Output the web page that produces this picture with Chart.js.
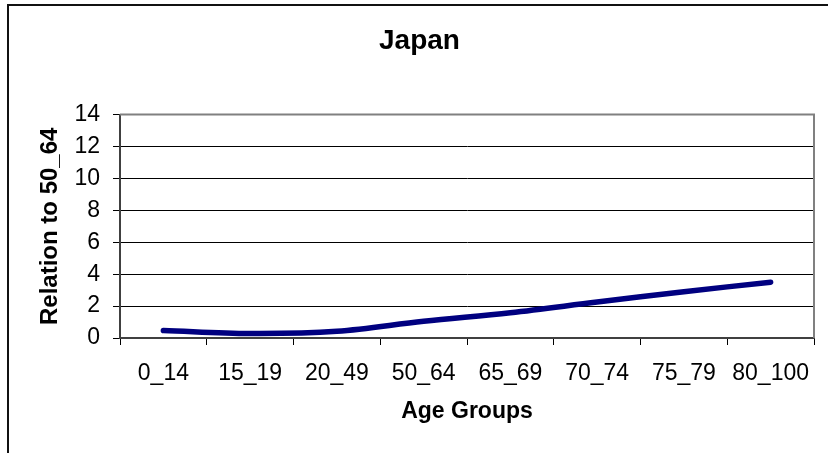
<!DOCTYPE html>
<html>
<head>
<meta charset="utf-8">
<script src="https://cdn.jsdelivr.net/npm/chart.js@4/dist/chart.umd.min.js"></script>
<style>
  html, body { margin: 0; padding: 0; background: #fff; }
  #frame { position: absolute; left: 7px; top: 4px; width: 900px; height: 600px;
           border-top: 2px solid #111; border-left: 2px solid #111; }
  #wrap { position: absolute; left: 0; top: 0; width: 828px; height: 453px; }
</style>
</head>
<body>
<div id="frame"></div>
<div id="wrap"><canvas id="japanChart"></canvas></div>
<script>
// datos
const ageGroups = ['0_14', '15_19', '20_49', '50_64', '65_69', '70_74', '75_79', '80_100'];
const relationValues = [0.47, 0.28, 0.42, 1.05, 1.58, 2.25, 2.9, 3.5];
const yTicks = [0, 2, 4, 6, 8, 10, 12, 14];

const FONT = "'Liberation Sans', Arial, sans-serif";

// borde gris del área del gráfico (arriba y derecha)
const plotBorder = {
  id: 'plotBorder',
  beforeDatasetsDraw(chart) {
    const { ctx, chartArea: a } = chart;
    ctx.save();
    ctx.strokeStyle = '#808080';
    ctx.lineWidth = 2;
    ctx.beginPath();
    ctx.moveTo(a.left, a.top);
    ctx.lineTo(a.right, a.top);
    ctx.lineTo(a.right, a.bottom);
    ctx.stroke();
    ctx.restore();
  }
};

function initChart() {
  const ctx = document.getElementById('japanChart').getContext('2d');
  new Chart(ctx, {
    type: 'line',
    data: {
      labels: ageGroups,
      datasets: [{
        label: 'Japan',
        data: relationValues,
        borderColor: '#000080',
        borderWidth: 5.5,
        borderCapStyle: 'round',
        borderJoinStyle: 'round',
        tension: 0.35,
        pointRadius: 0,
        fill: false
      }]
    },
    options: {
      responsive: true,
      maintainAspectRatio: false,
      animation: false,
      layout: { padding: { left: 25, right: 14, top: 0, bottom: 0 } },
      plugins: {
        legend: { display: false },
        tooltip: { enabled: false },
        title: {
          display: true,
          text: 'Japan',
          color: '#000',
          font: { family: FONT, size: 28, weight: 'bold' },
          padding: { top: 24, bottom: 57 }
        }
      },
      scales: {
        x: {
          offset: true,
          afterFit: s => { s.height = 115; },
          grid: { display: true, drawOnChartArea: false, drawTicks: true, tickLength: 7,
                  color: '#000', offset: true },
          border: { color: '#404040', width: 2 },
          ticks: { color: '#000', font: { family: FONT, size: 23 }, padding: 15,
                   maxRotation: 0, autoSkip: false },
          title: {
            display: true,
            text: 'Age Groups',
            color: '#000',
            font: { family: FONT, size: 23, weight: 'bold' },
            padding: { top: 0, bottom: 28 }
          }
        },
        y: {
          min: 0,
          max: 14,
          afterFit: s => { s.width = 95; },
          afterBuildTicks: s => { s.ticks = yTicks.map(v => ({ value: v })); },
          grid: {
            color: c => (c.tick && c.tick.value === 14) ? '#808080' : '#000',
            lineWidth: 1,
            tickLength: 7,
            tickColor: '#000'
          },
          border: { color: '#404040', width: 2 },
          ticks: { color: '#000', font: { family: FONT, size: 23 }, padding: 13 },
          title: {
            display: true,
            text: 'Relation to 50_64',
            color: '#000',
            font: { family: FONT, size: 24, weight: 'bold' },
            padding: { top: 11, bottom: 0 }
          }
        }
      }
    },
    plugins: [plotBorder]
  });
}

window.addEventListener('load', initChart);
</script>
</body>
</html>
